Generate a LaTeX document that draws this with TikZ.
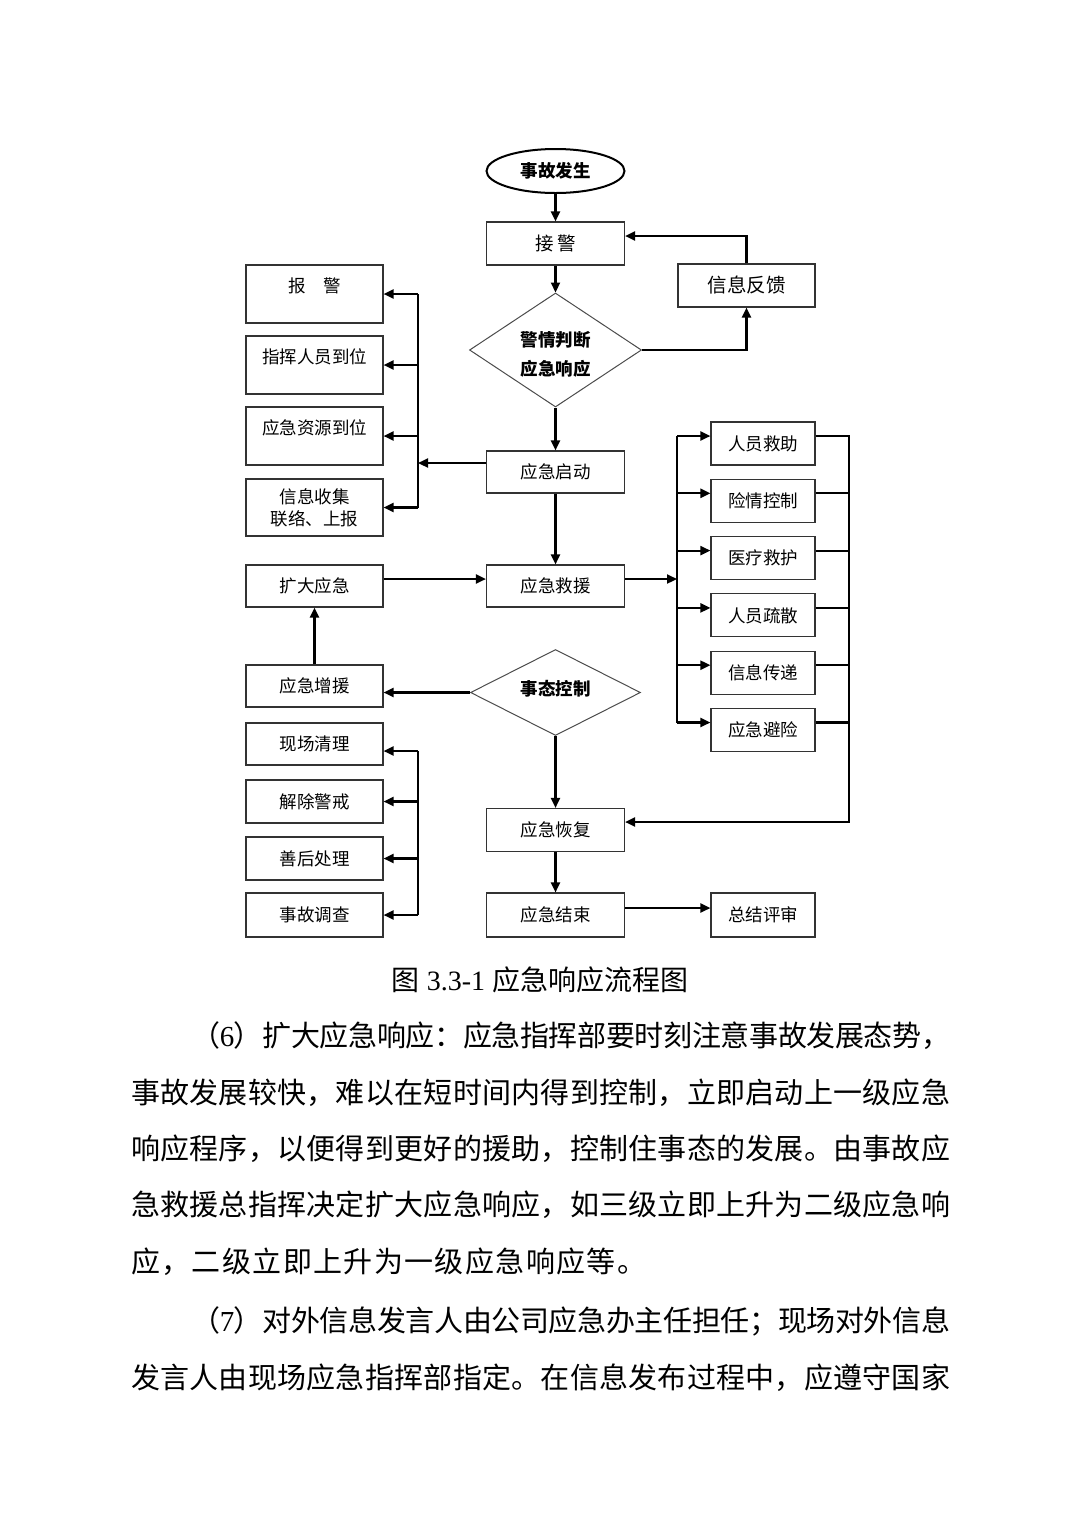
\documentclass[tikz,border=0pt]{standalone}
\usepackage{fontspec}
\setmainfont{Liberation Serif}
\newfontfamily\cjk{Noto Sans CJK SC}
\usetikzlibrary{shapes.geometric,arrows.meta}
\makeatletter
\newcommand\spreadline[2]{\hbox to #1{\@tfor\tkn:=#2\do{\tkn\hskip 0pt plus 1fil minus 3pt}\unskip}}
\makeatother
\begin{document}
\begin{tikzpicture}[x=1pt,y=-1pt,
  box/.style={draw=black!80,line width=1.1pt,rectangle,inner sep=0pt,font=\cjk\fontsize{17.5}{21}\selectfont},
  cbox/.style={box,minimum width=138pt,minimum height=43pt},
  lbox/.style={box,minimum width=137pt,minimum height=42pt},
  rbox/.style={box,minimum width=104pt,minimum height=43pt},
  txt/.style={inner sep=0pt,font=\cjk\fontsize{17.5}{21}\selectfont},
  btxt/.style={inner sep=0pt,align=center,font=\cjk\bfseries\fontsize{17.5}{29}\selectfont},
  dia/.style={diamond,draw=black!70,line width=1pt,inner sep=0pt},
  arr/.style={line width=2.2pt,-{Triangle[length=10pt,width=9pt]}},
  conn/.style={line width=2.2pt},
  body/.style={anchor=base west,inner sep=0pt,font=\cjk\fontsize{29}{34}\selectfont}]
\useasboundingbox (0,0) rectangle (1080,1527);
\fill[white] (0,0) rectangle (1080,1527);

% centre column
\node[ellipse,draw,line width=2pt,minimum width=138pt,minimum height=44pt,inner sep=0pt,font=\cjk\bfseries\fontsize{17.5}{21}\selectfont] (E) at (555.5,171) {事故发生};
\node[cbox,font=\cjk\fontsize{18.5}{21}\selectfont] (B1) at (555.5,243.5) {接\hspace{3pt}警};
\node[box,minimum width=137pt,minimum height=43pt,font=\cjk\fontsize{19.5}{21}\selectfont] (FB) at (746.5,285.5) {信息反馈};
\node[dia,minimum width=172pt,minimum height=114pt] (D1) at (555.5,350) {};
\node[btxt] (D1t) at (555.5,354.5) {警情判断\\应急响应};
\node[cbox,minimum height=42pt] (S) at (555.5,472) {应急启动};
\node[cbox,minimum height=42pt] (R) at (555.5,586) {应急救援};
\node[dia,minimum width=170pt,minimum height=86pt] (D2) at (555.5,692.5) {};
\node[btxt] (D2t) at (555.5,689) {事态控制};
\node[cbox] (H) at (555.5,830) {应急恢复};
\node[cbox,minimum height=44pt] (J) at (555.5,915) {应急结束};
\node[rbox,minimum height=44pt] (T) at (763,915) {总结评审};

% left top boxes
\node[box,minimum width=137pt,minimum height=58pt] (L1) at (314.5,294) {};
\node[txt] (L1t) at (314.5,286) {报\hspace{1em}警};
\node[box,minimum width=137pt,minimum height=58pt] (L2) at (314.5,365) {};
\node[txt] (L2t) at (314.5,357) {指挥人员到位};
\node[box,minimum width=137pt,minimum height=58pt] (L3) at (314.5,436) {};
\node[txt] (L3t) at (314.5,428) {应急资源到位};
\node[box,minimum width=137pt,minimum height=57pt] (L4) at (314.5,507.5) {};
\node[txt] (L4a) at (314.5,497) {信息收集};
\node[txt] (L4b) at (314.5,519) {联络、上报};

\node[lbox] (K) at (314.5,586) {扩大应急};
\node[lbox] (Z) at (314.5,686) {应急增援};

% left bottom boxes
\node[lbox] (M1) at (314.5,744) {现场清理};
\node[lbox,minimum height=43pt] (M2) at (314.5,801.5) {解除警戒};
\node[lbox,minimum height=43pt] (M3) at (314.5,858.5) {善后处理};
\node[lbox,minimum height=44pt] (M4) at (314.5,915) {事故调查};

% right boxes
\node[rbox] (P1) at (763,443.5) {人员救助};
\node[rbox] (P2) at (763,500.8) {险情控制};
\node[rbox] (P3) at (763,558.1) {医疗救护};
\node[rbox] (P4) at (763,615.4) {人员疏散};
\node[rbox] (P5) at (763,672.7) {信息传递};
\node[rbox] (P6) at (763,730) {应急避险};

% coordinates of buses
\coordinate (lbA) at (418,294);
\coordinate (lbB) at (418,365);
\coordinate (lbC) at (418,436);
\coordinate (lbD) at (418,507.5);
\coordinate (lbS) at (418,463);
\coordinate (mb1) at (418,751);
\coordinate (mb2) at (418,801.5);
\coordinate (mb3) at (418,858.5);
\coordinate (mb4) at (418,915);
\coordinate (ra1) at (677,436);
\coordinate (ra2) at (677,493.3);
\coordinate (ra3) at (677,550.6);
\coordinate (ra4) at (677,607.9);
\coordinate (ra5) at (677,665.2);
\coordinate (ra6) at (677,722.5);
\coordinate (raR) at (677,579);
\coordinate (rb1) at (849,436);
\coordinate (rb2) at (849,493.3);
\coordinate (rb3) at (849,550.6);
\coordinate (rb4) at (849,607.9);
\coordinate (rb5) at (849,665.2);
\coordinate (rb6) at (849,722.5);
\coordinate (rbH) at (849,822);

% connectors
\draw[arr] (E.south) -- (B1.north);
\draw[arr] (B1.south) -- (D1.north);
\draw[arr] (D1.east) -| (FB.south);
\draw[arr] (FB.north) |- ([yshift=7.5pt]B1.east);
\draw[arr] (D1.south) -- (S.north);
\draw[conn] (lbA) -- (lbD);
\draw[arr] (lbA) -- (L1.east);
\draw[arr] (lbB) -- (L2.east);
\draw[arr] (lbC) -- (L3.east);
\draw[arr] (lbD) -- (L4.east);
\draw[arr] ([yshift=9pt]S.west) -- (lbS);
\draw[arr] (S.south) -- (R.north);
\draw[arr] ([yshift=7pt]K.east) -- ([yshift=7pt]R.west);
\draw[arr] (Z.north) -- (K.south);
\draw[arr] (D2.west) -- (D2.west -| Z.east);
\draw[arr] ([yshift=7pt]R.east) -- (raR);
\draw[conn] (ra1) -- (ra6);
\draw[arr] (ra1) -- ([yshift=7.5pt]P1.west);
\draw[arr] (ra2) -- ([yshift=7.5pt]P2.west);
\draw[arr] (ra3) -- ([yshift=7.5pt]P3.west);
\draw[arr] (ra4) -- ([yshift=7.5pt]P4.west);
\draw[arr] (ra5) -- ([yshift=7.5pt]P5.west);
\draw[arr] (ra6) -- ([yshift=7.5pt]P6.west);
\draw[conn,line cap=rect] (rb1) -- (rbH);
\draw[conn] ([yshift=7.5pt]P1.east) -- (rb1);
\draw[conn] ([yshift=7.5pt]P2.east) -- (rb2);
\draw[conn] ([yshift=7.5pt]P3.east) -- (rb3);
\draw[conn] ([yshift=7.5pt]P4.east) -- (rb4);
\draw[conn] ([yshift=7.5pt]P5.east) -- (rb5);
\draw[conn] ([yshift=7.5pt]P6.east) -- (rb6);
\draw[arr] (rbH) -- ([yshift=8pt]H.east);
\draw[arr] (D2.south) -- (H.north);
\draw[arr] (H.south) -- (J.north);
\draw[arr] ([yshift=7pt]J.east) -- ([yshift=7pt]T.west);
\draw[conn] (mb1) -- (mb4);
\draw[arr] (mb1) -- ([yshift=-7pt]M1.east);
\draw[arr] (mb2) -- (M2.east);
\draw[arr] (mb3) -- (M3.east);
\draw[arr] (mb4) -- (M4.east);

% caption and body text
\node[anchor=base,inner sep=0pt,font=\fontsize{28}{34}\selectfont] (cap) at (540,990.5) {{\cjk 图} 3.3-1 {\cjk 应急响应流程图}};
\node[body] (t1) at (191,1046) {\spreadline{759pt}{（{{\rmfamily 6}}）扩大应急响应：应急指挥部要时刻注意事故发展态势，}};
\node[body] (t2) at (131,1103) {\spreadline{819pt}{事故发展较快，难以在短时间内得到控制，立即启动上一级应急}};
\node[body] (t3) at (131,1159) {\spreadline{819pt}{响应程序，以便得到更好的援助，控制住事态的发展。由事故应}};
\node[body] (t4) at (131,1215) {\spreadline{819pt}{急救援总指挥决定扩大应急响应，如三级立即上升为二级应急响}};
\node[body] (t5) at (131,1272) {\spreadline{515pt}{应，二级立即上升为一级应急响应等。}};
\node[body] (t6) at (191,1331) {\spreadline{759pt}{（{{\rmfamily 7}}）对外信息发言人由公司应急办主任担任；现场对外信息}};
\node[body] (t7) at (131,1388) {\spreadline{819pt}{发言人由现场应急指挥部指定。在信息发布过程中，应遵守国家}};
\end{tikzpicture}
\end{document}
